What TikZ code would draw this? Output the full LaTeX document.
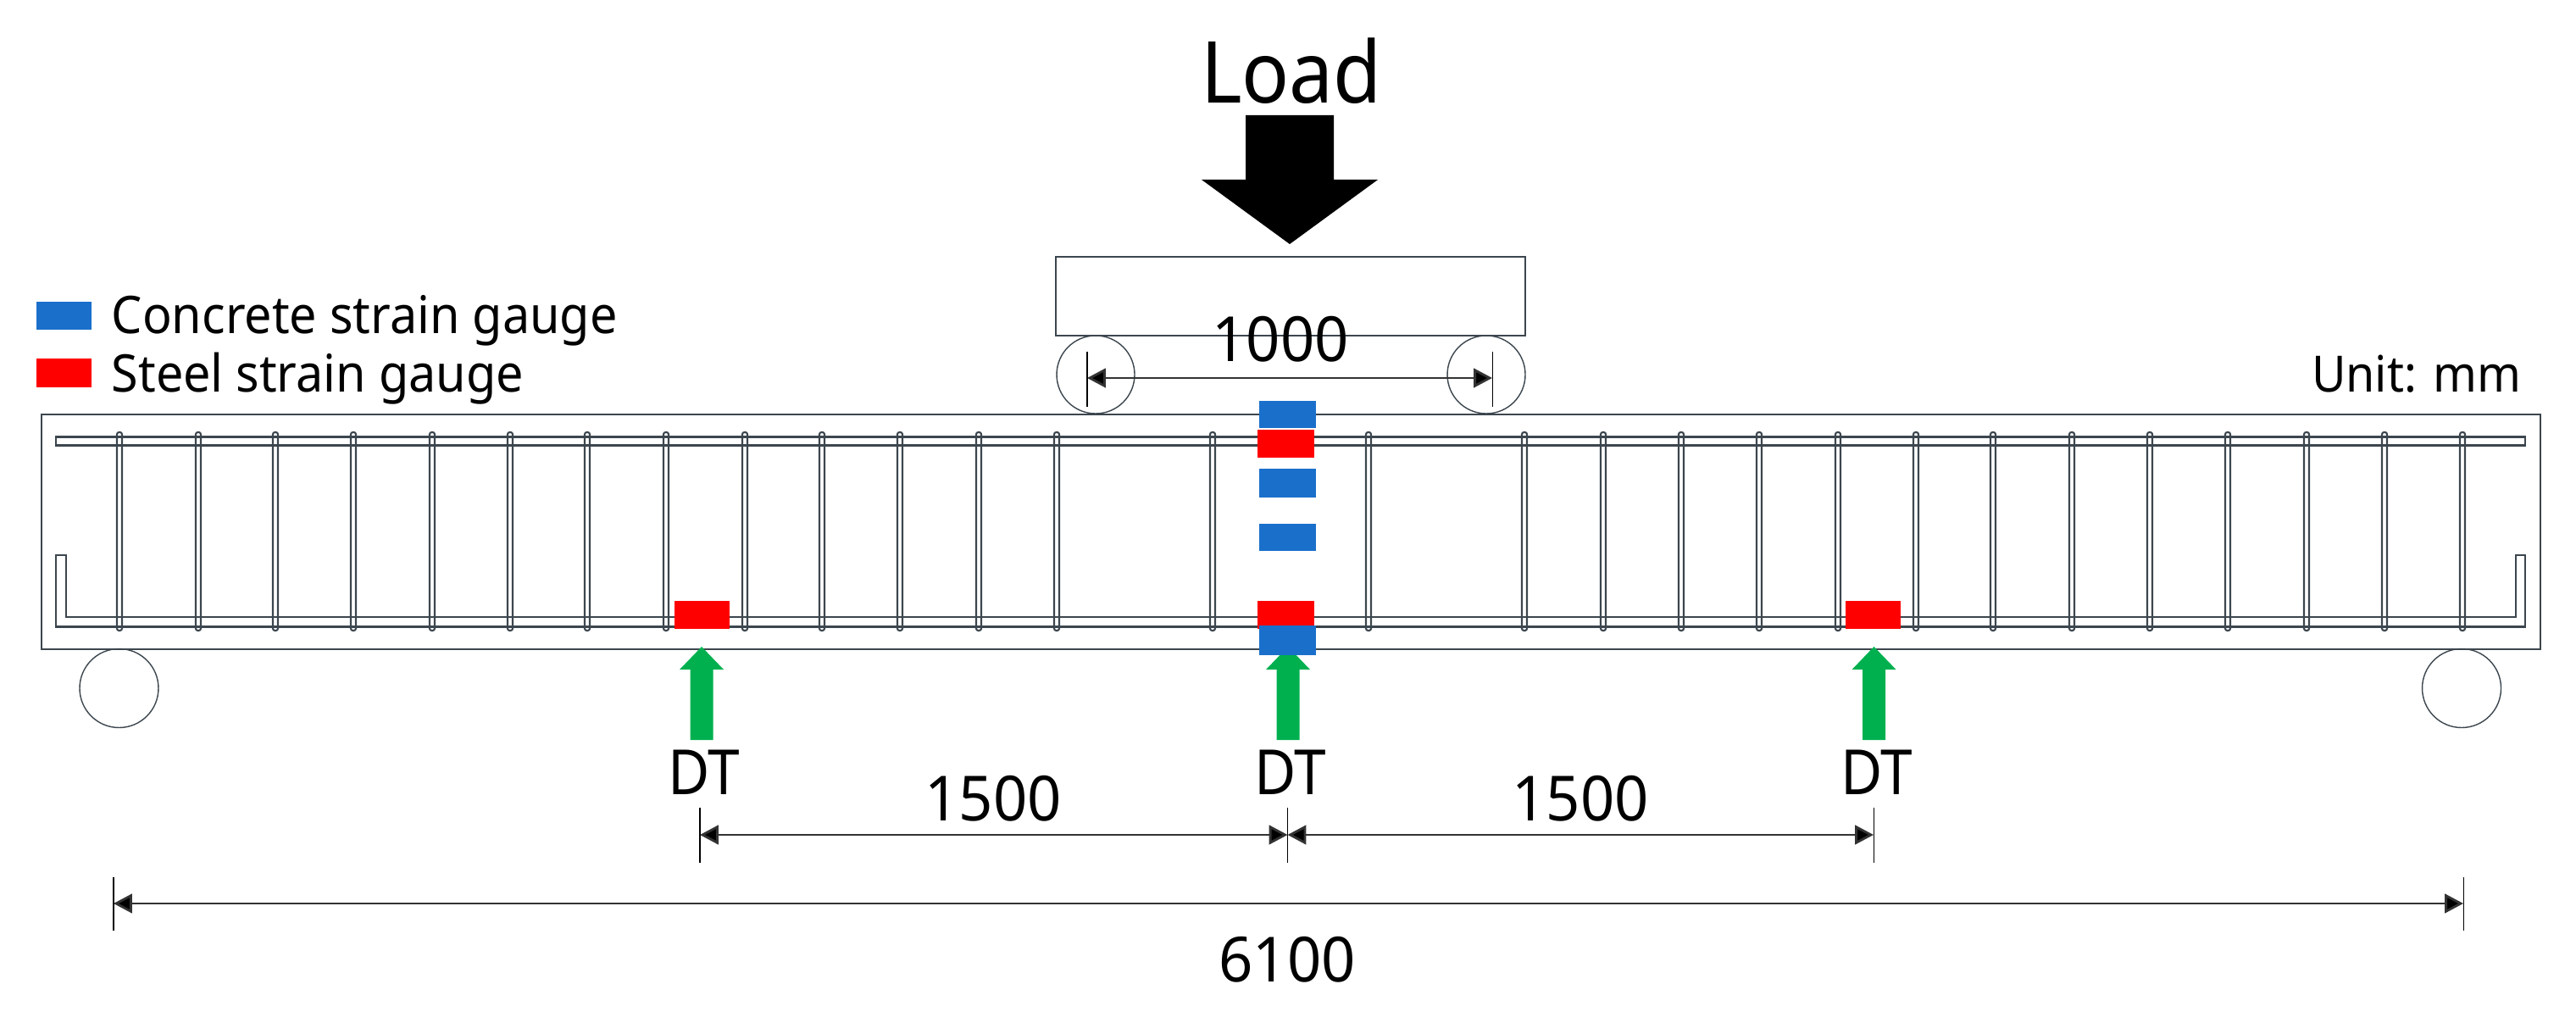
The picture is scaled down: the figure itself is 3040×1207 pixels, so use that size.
\documentclass[tikz,border=0pt]{standalone}
\usepackage{fontspec}
\setmainfont[FakeStretch=0.92]{Noto Sans}
\newfontfamily\legfont[FakeStretch=0.94]{Noto Sans}
\newfontfamily\numfont[FakeStretch=0.96]{Noto Sans}
\usetikzlibrary{arrows.meta,positioning}
\definecolor{gaugeblue}{HTML}{1A6FCB}
\definecolor{gaugered}{HTML}{FF0000}
\definecolor{dtgreen}{HTML}{00B04F}
\definecolor{rebar}{HTML}{3C464E}
\tikzset{%
	outline/.style  = {draw=rebar, line width=0.75pt},
	barline/.style  = {draw=rebar, line width=0.6pt},
	stirrup/.style  = {draw=rebar, line width=0.6pt, rounded corners=0.7pt},
	roller/.style   = {draw=rebar, line width=0.4pt},
	dimline/.style  = {draw=black!80, line width=0.8pt, {Triangle[length=6.2pt,width=6.4pt,fill=black]}-{Triangle[length=6.2pt,width=6.4pt,fill=black]}},
	dimtick/.style  = {draw=black, line width=0.3pt},
	label/.style    = {inner sep=0pt, anchor=base},
	bigtext/.style  = {label, font=\fontsize{28.7}{30}\selectfont},
	dttext/.style   = {label, font=\fontsize{20.9}{22}\selectfont},
	numtext/.style  = {label, font=\numfont\fontsize{20.9}{22}\selectfont},
	legtext/.style  = {inner sep=0pt, anchor=base west, font=\legfont\fontsize{17.4}{19}\selectfont},
}
\begin{document}
\begin{tikzpicture}[x=0.01cm,y=-0.01cm]
	\useasboundingbox (0,0) rectangle (3040,1207);
	% beam and bars
	\draw[outline] (49,489) rectangle (2998,766);
	\draw[barline] (66,515.5) rectangle (2980,525.5);
	\draw[barline] (66,655) -- (78,655) -- (78,728) -- (2969,728) -- (2969,655) -- (2980,655) -- (2980,739.5) -- (66,739.5) -- cycle;
	\foreach \x in {141,234,325,417,510,602,693,786,879,970,1062,1155,1247,1431,1615,1799,1892,1984,2076,2169,2261,2352,2445,2537,2629,2722,2814,2906}
		\draw[stirrup] (\x-3,510) rectangle (\x+3,744);
	% supports and loading plate
	\draw[roller] (140.5,812) circle (46.5);
	\draw[roller] (2905,812) circle (46.5);
	\draw[outline,line width=0.6pt] (1246,303) rectangle (1800,396);
	\draw[roller] (1293,442) circle (46);
	\draw[roller] (1754,442) circle (46);
	% load
	\fill[black] (1470,136) -- (1574,136) -- (1574,212) -- (1626,212) -- (1522,288) -- (1418,212) -- (1470,212) -- cycle;
	\node[bigtext] (load) at (1524,122) {Load};
	% displacement transducers
	\foreach \x/\n in {828/a,1520/b,2211.5/c} {
		\fill[dtgreen] (\x-13.5,873) -- (\x+13.5,873) -- (\x+13.5,790) -- (\x+26,790) -- (\x,763) -- (\x-26,790) -- (\x-13.5,790) -- cycle;
		\node[dttext] (dt\n) at (\x+3,937) {DT};
	}
	% gauges
	\fill[gaugered] (796,709) rectangle (861,742);
	\fill[gaugered] (2178,709) rectangle (2243,742);
	\fill[gaugered] (1484,507) rectangle (1551,540);
	\fill[gaugered] (1484,709) rectangle (1551,742);
	\fill[gaugeblue] (1486,473) rectangle (1553,505);
	\fill[gaugeblue] (1486,553) rectangle (1553,587);
	\fill[gaugeblue] (1486,618) rectangle (1553,650);
	\fill[gaugeblue] (1486,738) rectangle (1553,773);
	% legend
	\fill[gaugeblue] (43,356) rectangle (108,389);
	\fill[gaugered] (43,423) rectangle (108,457);
	\node[legtext] (legconc) at (131,394) {Concrete strain gauge};
	\node[legtext] (legsteel) at (131,463) {Steel strain gauge};
	\node[legtext,anchor=base east,font=\legfont\fontsize{16.8}{19}\selectfont] (unit) at (2976,463) {Unit: mm};
	% dimensions
	\coordinate (p1l) at (1283,446);
	\coordinate (p1r) at (1761,446);
	\coordinate (d1) at (826,985);
	\coordinate (d2) at (1519.5,985);
	\coordinate (d3) at (2211,985);
	\coordinate (s1) at (134,1066);
	\coordinate (s2) at (2907,1066);
	\draw[dimline] (p1l) -- (p1r);
	\draw[dimline] (d1) -- (d2);
	\draw[dimline] (d2) -- (d3);
	\draw[dimline] (s1) -- (s2);
	\foreach \c in {p1l,p1r}
		\draw[dimtick] ([yshift=-0.34cm]\c) -- ([yshift=0.31cm]\c);
	\foreach \c in {d1,d2,d3}
		\draw[dimtick] ([yshift=0.32cm]\c) -- ([yshift=-0.33cm]\c);
	\foreach \c in {s1,s2}
		\draw[dimtick] ([yshift=0.31cm]\c) -- ([yshift=-0.32cm]\c);
	\node[numtext] (w1000) at (1511,427) {1000};
	\node[numtext] (w1500a) at (1172,968) {1500};
	\node[numtext] (w1500b) at (1865,968) {1500};
	\node[numtext] (w6100) at (1519,1158) {6100};
\end{tikzpicture}
\end{document}
